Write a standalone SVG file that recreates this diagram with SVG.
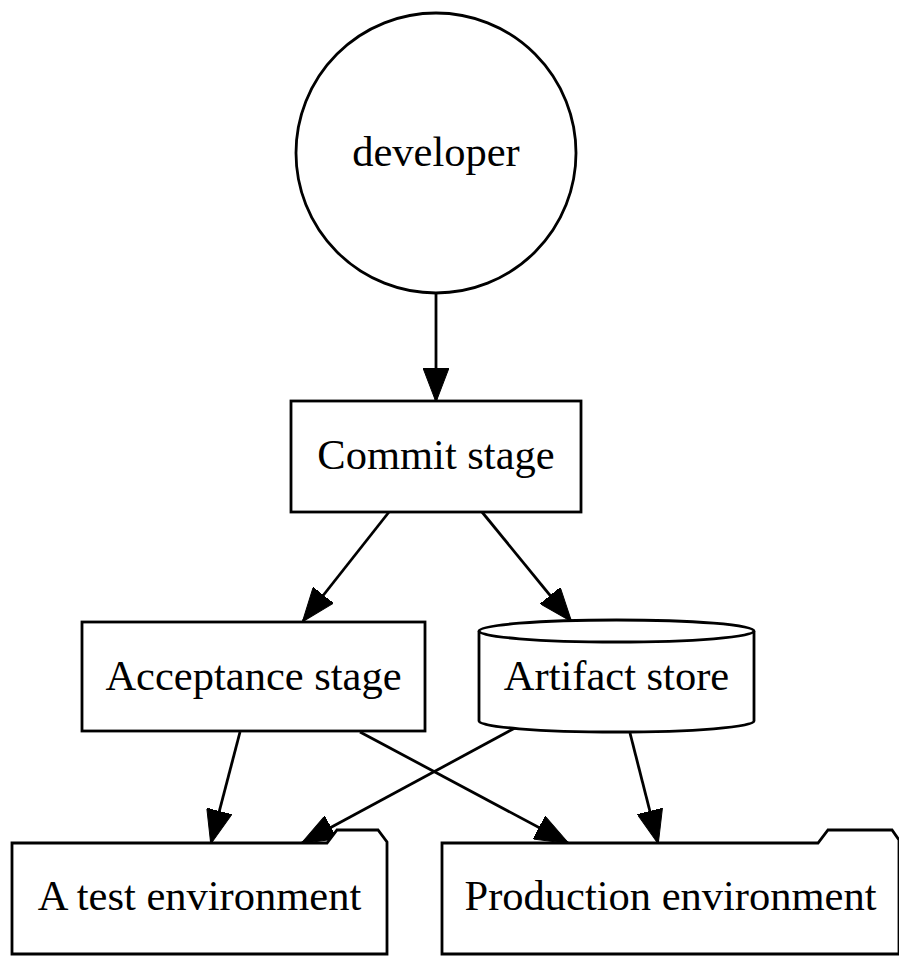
<svg xmlns="http://www.w3.org/2000/svg" width="899" height="961" viewBox="0 0 899 961">
<style>
.s{fill:#fff;stroke:#000;stroke-width:2.8}
.t{font-family:"Liberation Serif","Times New Roman",serif;font-size:42.5px;fill:#000;text-anchor:middle}
.e{fill:none;stroke:#000;stroke-width:2.8}
</style>
<defs>
<marker id="ah" markerUnits="userSpaceOnUse" markerWidth="34" markerHeight="26" viewBox="0 0 34 26" refX="33" refY="13" orient="auto">
<path d="M0,0 L34,13 L0,26 Z" fill="#000" stroke="#000" stroke-width="1"/>
</marker>
</defs>
<rect width="899" height="961" fill="#fff"/>
<g id="edges">
<line class="e" x1="436" y1="293" x2="436" y2="401" marker-end="url(#ah)"/>
<line class="e" x1="389" y1="512" x2="303" y2="621" marker-end="url(#ah)"/>
<line class="e" x1="482" y1="512" x2="571" y2="621" marker-end="url(#ah)"/>
<line class="e" x1="240" y1="732" x2="211" y2="843" marker-end="url(#ah)"/>
<line class="e" x1="360" y1="732" x2="568" y2="843" marker-end="url(#ah)"/>
<line class="e" x1="515" y1="728" x2="302" y2="843" marker-end="url(#ah)"/>
<line class="e" x1="630" y1="733" x2="658" y2="843" marker-end="url(#ah)"/>
</g>
<g id="developer">
<circle class="s" cx="436" cy="153" r="140"/>
<text class="t" x="436" y="166">developer</text>
</g>
<g id="commit">
<rect class="s" x="291" y="401" width="290" height="111"/>
<text class="t" x="436" y="469">Commit stage</text>
</g>
<g id="acceptance">
<rect class="s" x="82" y="622" width="343" height="109"/>
<text class="t" x="253.5" y="690">Acceptance stage</text>
</g>
<g id="artifact">
<path class="s" d="M479,631 L479,721 A137.5,11 0 0 0 754,721 L754,631 A137.5,11 0 0 0 479,631 Z"/>
<path class="e" d="M479,631 A137.5,11 0 0 0 754,631"/>
<text class="t" x="616.5" y="690">Artifact store</text>
</g>
<g id="testenv">
<path class="s" d="M12,843 L327,843 L337,830 L378,830 L387,842 L387,954 L12,954 Z"/>
<text class="t" x="199.5" y="910">A test environment</text>
</g>
<g id="prodenv">
<path class="s" d="M442,843 L818,843 L828,830 L892,830 L899,840 L899,954 L442,954 Z"/>
<text class="t" x="670.5" y="910">Production environment</text>
</g>
</svg>
